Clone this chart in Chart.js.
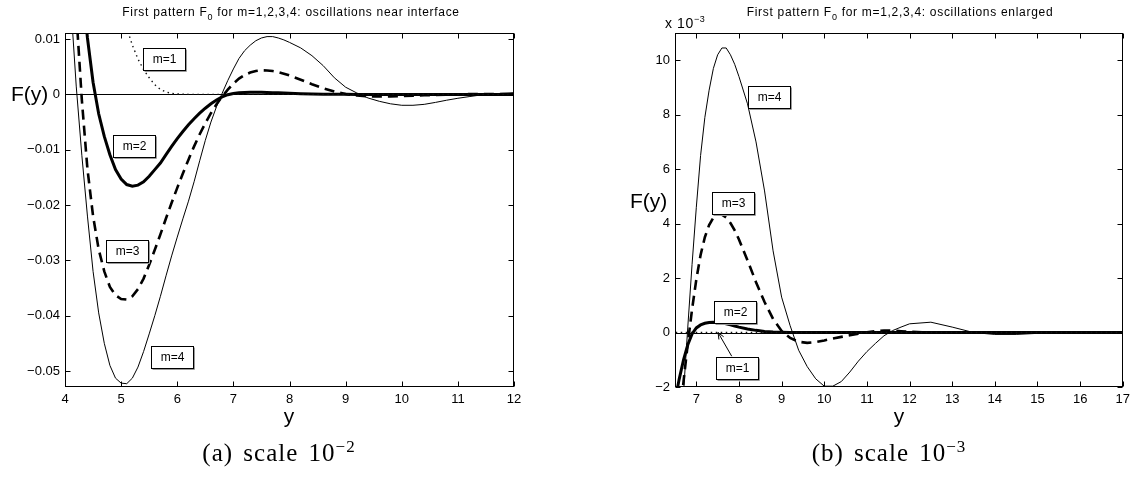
<!DOCTYPE html>
<html>
<head>
<meta charset="utf-8">
<script src="https://cdn.jsdelivr.net/npm/chart.js@4.4.1/dist/chart.umd.min.js"></script>
<style>
  body { margin: 0; background: #fff; }
  #page { position: relative; width: 1135px; height: 482px; overflow: hidden; font-family: "Liberation Sans", Arial, sans-serif; color: #000; }
  canvas { position: absolute; top: 0; }
  .txt { position: absolute; white-space: nowrap; }
  .ttl { font-size: 12px; line-height: 12px; letter-spacing: 0.7px; transform: translateX(-50%); }
  .ttl sub { font-size: 9px; vertical-align: -4px; line-height: 0; }
  .lab { font-size: 21px; line-height: 21px; }
  .mul { font-size: 14px; line-height: 14px; letter-spacing: 0.6px; }
  .mul sup { font-size: 9px; vertical-align: 6px; line-height: 0; }
  .cap { font-family: "Liberation Serif", "Times New Roman", serif; font-size: 25px; line-height: 25px; letter-spacing: 1px; word-spacing: 3px; transform: translateX(-50%); }
  .cap sup { font-size: 17px; vertical-align: 9px; line-height: 0; }
</style>
</head>
<body>
<div id="page">
  <canvas id="chartA" width="560" height="482" style="left:0"></canvas>
  <canvas id="chartB" width="575" height="482" style="left:560px"></canvas>

  <div class="txt ttl" style="left:291px;top:6px">First pattern F<sub>0</sub> for m=1,2,3,4: oscillations near interface</div>
  <div class="txt ttl" style="left:900px;top:6px">First pattern F<sub>0</sub> for m=1,2,3,4: oscillations enlarged</div>

  <div class="txt lab" style="left:11px;top:83px">F(y)</div>
  <div class="txt lab" style="left:630px;top:190px">F(y)</div>
  <div class="txt mul" style="left:665px;top:16px">x 10<sup>&minus;3</sup></div>

  <div class="txt lab" style="left:289px;top:405px;transform:translateX(-50%)">y</div>
  <div class="txt lab" style="left:899px;top:405px;transform:translateX(-50%)">y</div>

  <div class="txt cap" style="left:279px;top:440px">(a) scale 10<sup>&minus;2</sup></div>
  <div class="txt cap" style="left:889px;top:440px">(b) scale 10<sup>&minus;3</sup></div>
</div>

<script>
// sample points along y, values of F in units of 1e-3
const ys = [4.0, 4.1, 4.2, 4.3, 4.4, 4.5, 4.6, 4.7, 4.8, 4.9,
            5.0, 5.1, 5.2, 5.3, 5.4, 5.5, 5.6, 5.7, 5.8, 5.9,
            6.0, 6.1, 6.2, 6.3, 6.4, 6.5, 6.6, 6.7, 6.8, 6.9,
            7.0, 7.1, 7.2, 7.3, 7.4, 7.5, 7.6, 7.7, 7.8, 7.9,
            8.0, 8.2, 8.4, 8.6, 8.8, 9.0, 9.2, 9.4, 9.6, 9.8,
            10.0, 10.2, 10.4, 10.6, 10.8, 11.0, 11.2, 11.4, 11.6, 11.8,
            12.0, 12.5, 13.0, 13.5, 14.0, 14.5, 15.0, 15.5, 16.0, 16.5, 17.0];

const m1 = [67, 59.5, 52.5, 46, 40, 34.5, 29.5, 25, 21, 17.5,
            14.8, 12, 8.9, 6.4, 4.5, 3.0, 1.75, 0.9, 0.42, 0.18,
            0.07, 0.03, 0.01, 0, 0, 0, 0, 0, 0, 0,
            0, 0, 0, 0, 0, 0, 0, 0, 0, 0,
            0, 0, 0, 0, 0, 0, 0, 0, 0, 0,
            0, 0, 0, 0, 0, 0, 0, 0, 0, 0,
            0, 0, 0, 0, 0, 0, 0, 0, 0, 0, 0];

const m2 = [52, 41, 30.8, 20.5, 10.2, 2.2, -3.5, -7.6, -10.9, -13.6,
            -15.3, -16.3, -16.6, -16.4, -15.8, -14.8, -13.6, -12.4, -10.9, -9.4,
            -8.0, -6.7, -5.5, -4.4, -3.4, -2.5, -1.7, -1.0, -0.45, -0.05,
            0.17, 0.28, 0.34, 0.37, 0.38, 0.37, 0.35, 0.32, 0.28, 0.24,
            0.2, 0.13, 0.08, 0.04, 0.02, 0.01, 0, 0, 0, 0,
            0, 0, 0, 0, 0, 0, 0, 0, 0, 0,
            0, 0, 0, 0, 0, 0, 0, 0, 0, 0, 0];

const m3 = [55, 33, 15, -1, -13.5, -22, -28, -32, -34.8, -36.3,
            -37, -37.1, -36.5, -35.2, -33.3, -30.8, -28.1, -25.3, -22.4, -19.6,
            -16.9, -14.3, -11.8, -9.4, -7.2, -5.2, -3.4, -1.8, -0.4, 0.85,
            1.95, 2.85, 3.5, 3.95, 4.22, 4.35, 4.33, 4.22, 4.02, 3.75,
            3.42, 2.65, 1.85, 1.12, 0.5, 0.06, -0.2, -0.34, -0.38, -0.35,
            -0.29, -0.22, -0.16, -0.1, -0.04, 0.01, 0.05, 0.07, 0.07, 0.05,
            0.03, 0, 0, 0, 0, 0, 0, 0, 0, 0, 0];

const m4 = [36, 17, 1.5, -11, -22, -32, -39.5, -45, -49, -51.3,
            -52.2, -52.3, -51.3, -49.3, -46.5, -43.3, -40, -36.5, -32.8, -29.2,
            -25.8, -22.5, -19.3, -15.8, -12, -8.3, -5, -2.2, 0.2, 2.5,
            4.6, 6.5, 7.9, 8.9, 9.7, 10.2, 10.45, 10.45, 10.2, 9.85,
            9.4, 8.4, 7.0, 5.2, 3.0, 1.3, 0.25, -0.65, -1.25, -1.7,
            -1.97, -1.97, -1.8, -1.45, -1.05, -0.7, -0.4, -0.12, 0.07, 0.2,
            0.32, 0.38, 0.2, 0, -0.07, -0.07, -0.03, 0, 0, 0, 0];

const xTicksA = [4, 5, 6, 7, 8, 9, 10, 11, 12];
const yTicksA = [10, 0, -10, -20, -30, -40, -50];
const xTicksB = [7, 8, 9, 10, 11, 12, 13, 14, 15, 16, 17];
const yTicksB = [-2, 0, 2, 4, 6, 8, 10];

// text boxes, placed in data coordinates
const notesA = [
    { text: 'm=1', x: 5.76, y: 6.4 },
    { text: 'm=2', x: 5.23, y: -9.4 },
    { text: 'm=3', x: 5.10, y: -28.4 },
    { text: 'm=4', x: 5.91, y: -47.5 }
];
const notesB = [
    { text: 'm=4', x: 8.71, y: 8.64 },
    { text: 'm=3', x: 7.85, y: 4.77 },
    { text: 'm=2', x: 7.91, y: 0.74 },
    { text: 'm=1', x: 7.95, y: -1.31 }
];
const arrowB = { from: [7.83, -0.87], to: [7.51, 0] };

const minus = s => s.replace('-', '\u2212');

const decor = {
    id: 'decor',
    beforeDatasetsDraw(chart) {
        const { ctx, chartArea: a, scales: { y } } = chart;
        const y0 = Math.round(y.getPixelForValue(0)) + 0.5;
        ctx.save();
        ctx.strokeStyle = '#000';
        ctx.lineWidth = 1;
        ctx.beginPath();
        ctx.moveTo(a.left, y0);
        ctx.lineTo(a.right, y0);
        ctx.stroke();
        ctx.restore();
    },
    afterDatasetsDraw(chart, args, opts) {
        const { ctx, chartArea: a, scales: { x, y } } = chart;
        ctx.save();
        ctx.strokeStyle = '#000';
        ctx.lineWidth = 1;
        const L = Math.round(a.left) + 0.5, R = Math.round(a.right) - 0.5;
        const T = Math.round(a.top) + 0.5, B = Math.round(a.bottom) - 0.5;
        ctx.strokeRect(L, T, R - L, B - T);
        ctx.beginPath();
        x.ticks.forEach(t => {
            const px = Math.round(x.getPixelForValue(t.value)) + 0.5;
            ctx.moveTo(px, B); ctx.lineTo(px, B - 5);
            ctx.moveTo(px, T); ctx.lineTo(px, T + 5);
        });
        y.ticks.forEach(t => {
            const py = Math.round(y.getPixelForValue(t.value)) + 0.5;
            ctx.moveTo(L, py); ctx.lineTo(L + 5, py);
            ctx.moveTo(R, py); ctx.lineTo(R - 5, py);
        });
        ctx.stroke();

        if (opts.arrow) {
            const x1 = x.getPixelForValue(opts.arrow.from[0]), y1 = y.getPixelForValue(opts.arrow.from[1]);
            const x2 = x.getPixelForValue(opts.arrow.to[0]), y2 = y.getPixelForValue(opts.arrow.to[1]);
            const ang = Math.atan2(y2 - y1, x2 - x1);
            ctx.beginPath();
            ctx.moveTo(x1, y1); ctx.lineTo(x2, y2);
            ctx.moveTo(x2 - 7 * Math.cos(ang - 0.4), y2 - 7 * Math.sin(ang - 0.4));
            ctx.lineTo(x2, y2);
            ctx.lineTo(x2 - 7 * Math.cos(ang + 0.4), y2 - 7 * Math.sin(ang + 0.4));
            ctx.stroke();
        }

        ctx.font = '12px "Liberation Sans", Arial, sans-serif';
        ctx.textAlign = 'center';
        ctx.textBaseline = 'middle';
        (opts.notes || []).forEach(n => {
            const cx = Math.round(x.getPixelForValue(n.x)), cy = Math.round(y.getPixelForValue(n.y));
            const w = 42, h = 22;
            const bx = cx - w / 2 + 0.5, by = cy - h / 2 + 0.5;
            ctx.strokeStyle = '#9a9a9a';
            ctx.beginPath();
            ctx.moveTo(bx + 1, by + h + 1); ctx.lineTo(bx + w + 1, by + h + 1); ctx.lineTo(bx + w + 1, by + 1);
            ctx.stroke();
            ctx.fillStyle = '#fff';
            ctx.fillRect(bx, by, w, h);
            ctx.strokeStyle = '#000';
            ctx.strokeRect(bx, by, w, h);
            ctx.fillStyle = '#000';
            ctx.fillText(n.text, cx + 0.5, cy + 1);
        });
        ctx.restore();
    }
};

function series() {
    const pts = v => ys.map((x, i) => ({ x: x, y: v[i] }));
    return [
        { label: 'm=1', data: pts(m1), borderColor: '#111', borderWidth: 1.4, borderDash: [1.5, 3.5] },
        { label: 'm=2', data: pts(m2), borderColor: '#000', borderWidth: 3 },
        { label: 'm=3', data: pts(m3), borderColor: '#000', borderWidth: 2.6, borderDash: [10, 6] },
        { label: 'm=4', data: pts(m4), borderColor: '#000', borderWidth: 1 }
    ];
}

function makeChart(id, cfg) {
    return new Chart(document.getElementById(id), {
        type: 'line',
        data: { datasets: series() },
        options: {
            responsive: false,
            animation: false,
            events: [],
            layout: { padding: cfg.padding },
            elements: { point: { radius: 0 }, line: { tension: 0 } },
            plugins: {
                legend: { display: false },
                tooltip: { enabled: false },
                decor: { notes: cfg.notes, arrow: cfg.arrow }
            },
            scales: {
                x: {
                    type: 'linear',
                    min: cfg.xMin, max: cfg.xMax,
                    afterBuildTicks: s => { s.ticks = cfg.xTicks.map(v => ({ value: v })); },
                    afterFit: s => { s.height = 95; },
                    grid: { display: false, drawTicks: false },
                    border: { display: false },
                    ticks: {
                        padding: 5,
                        color: '#000',
                        font: { family: '"Liberation Sans", Arial, sans-serif', size: 13 },
                        maxRotation: 0,
                        callback: v => String(v)
                    }
                },
                y: {
                    type: 'linear',
                    min: cfg.yMin, max: cfg.yMax,
                    afterBuildTicks: s => { s.ticks = cfg.yTicks.map(v => ({ value: v })); },
                    afterFit: s => { s.width = cfg.yWidth; },
                    grid: { display: false, drawTicks: false },
                    border: { display: false },
                    ticks: {
                        padding: 5,
                        color: '#000',
                        font: { family: '"Liberation Sans", Arial, sans-serif', size: 13 },
                        callback: cfg.yLabel
                    }
                }
            }
        },
        plugins: [decor]
    });
}

const chartA = makeChart('chartA', {
    padding: { top: 33, right: 46, bottom: 0, left: 0 },
    yWidth: 65,
    xMin: 4, xMax: 12, yMin: -52.9, yMax: 11.1,
    xTicks: xTicksA, yTicks: yTicksA,
    yLabel: v => v === 0 ? '0' : minus((v / 1000).toFixed(2)),
    notes: notesA, arrow: null
});

const chartB = makeChart('chartB', {
    padding: { top: 33, right: 11, bottom: 0, left: 0 },
    yWidth: 115,
    xMin: 6.5, xMax: 17, yMin: -2, yMax: 11,
    xTicks: xTicksB, yTicks: yTicksB,
    yLabel: v => minus(String(v)),
    notes: notesB, arrow: arrowB
});
</script>
</body>
</html>
